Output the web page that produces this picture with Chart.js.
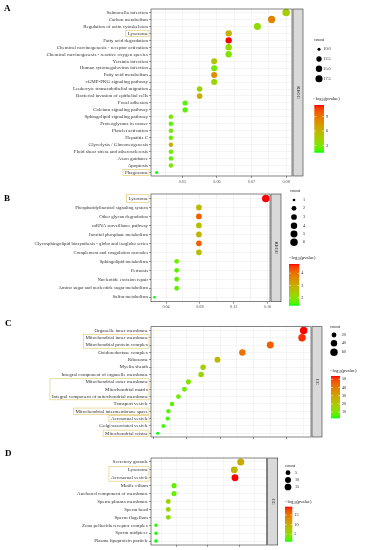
<!DOCTYPE html>
<html>
<head>
<meta charset="utf-8">
<script src="https://cdn.jsdelivr.net/npm/chart.js@4.4.1/dist/chart.umd.min.js"></script>
<style>
  html, body { margin: 0; padding: 0; background: #fff; }
  #wrap { position: relative; width: 366px; height: 550px; overflow: hidden; }
  canvas { position: absolute; left: 0; }
</style>
</head>
<body>
<div id="wrap">
  <canvas id="cA"></canvas>
  <canvas id="cB"></canvas>
  <canvas id="cC"></canvas>
  <canvas id="cD"></canvas>
</div>
<script>
// ---- panel A (KEGG) ----
const termsA = ['Salmonella infection', 'Carbon metabolism', 'Regulation of actin cytoskeleton', 'Lysosome',
  'Fatty acid degradation', 'Chemical carcinogenesis - receptor activation',
  'Chemical carcinogenesis - reactive oxygen species', 'Yersinia infection', 'Human cytomegalovirus infection',
  'Fatty acid metabolism', 'cGMP-PKG signaling pathway', 'Leukocyte transendothelial migration',
  'Bacterial invasion of epithelial cells', 'Focal adhesion', 'Calcium signaling pathway',
  'Sphingolipid signaling pathway', 'Proteoglycans in cancer', 'Platelet activation', 'Hepatitis C',
  'Glycolysis / Gluconeogenesis', 'Fluid shear stress and atherosclerosis', 'Axon guidance', 'Apoptosis', 'Phagosome'];
const ratioA = [0.0800, 0.0758, 0.0717, 0.0634, 0.0634, 0.0634, 0.0634, 0.0592, 0.0592, 0.0592, 0.0592, 0.0550,
  0.0550, 0.0508, 0.0508, 0.0467, 0.0467, 0.0467, 0.0467, 0.0467, 0.0467, 0.0467, 0.0467, 0.0426];
const countA = [19, 18, 17, 15, 15, 15, 15, 14, 14, 14, 14, 13, 13, 12, 12, 11, 11, 11, 11, 11, 11, 11, 11, 10];
const logpA = [4.5, 8.4, 3.7, 6.0, 11.4, 3.9, 3.2, 5.0, 2.8, 8.0, 4.1, 4.3, 6.5, 2.2, 2.2, 3.0, 2.2, 3.0, 2.7,
  6.0, 2.7, 2.4, 3.0, 1.5];
const countBreaksA = [10, 12.5, 15, 17.5];
const logpBreaksA = [3, 6, 9];

// ---- panel B (KEGG) ----
const termsB = ['Lysosome', 'Phosphatidylinositol signaling system', 'Other glycan degradation',
  'mRNA surveillance pathway', 'Inositol phosphate metabolism',
  'Glycosphingolipid biosynthesis - globo and isoglobo series', 'Complement and coagulation cascades',
  'Sphingolipid metabolism', 'Pertussis', 'Nucleotide excision repair',
  'Amino sugar and nucleotide sugar metabolism', 'Sulfur metabolism'];
const ratioB = [0.158, 0.0789, 0.0789, 0.0789, 0.0789, 0.0789, 0.0789, 0.0526, 0.0526, 0.0526, 0.0526, 0.0263];
const countB = [6, 3, 3, 3, 3, 3, 3, 2, 2, 2, 2, 1];
const logpB = [4.76, 2.8, 4.2, 2.7, 2.9, 4.2, 2.7, 1.8, 1.6, 1.7, 1.7, 1.35];
const countBreaksB = [1, 2, 3, 4, 5, 6];
const logpBreaksB = [2, 3, 4];

// ---- panel C (GO CC) ----
const termsC = ['Organelle inner membrane', 'Mitochondrial inner membrane', 'Mitochondrial protein complex',
  'Oxidoreductase complex', 'Ribosome', 'Myelin sheath', 'Integral component of organelle membrane',
  'Mitochondrial outer membrane', 'Mitochondrial matrix', 'Integral component of mitochondrial membrane',
  'Transport vesicle', 'Mitochondrial intermembrane space', 'Acrosomal vesicle', 'Golgi-associated vesicle',
  'Mitochondrial cristae'];
const ratioC = [0.110, 0.109, 0.090, 0.0733, 0.0584, 0.0498, 0.0486, 0.041, 0.0386, 0.035, 0.0312, 0.029,
  0.0286, 0.026, 0.0226];
const countC = [61, 60, 50, 40, 32, 27, 27, 23, 21, 19, 17, 16, 16, 14, 12];
const logpC = [54, 52, 46, 42, 24, 17, 16, 12, 9, 8, 7, 6, 5, 4.5, 2.5];
const countBreaksC = [20, 40, 60];
const logpBreaksC = [10, 20, 30, 40, 50];

// ---- panel D (GO CC) ----
const termsD = ['Secretory granule', 'Lysosome', 'Acrosomal vesicle', 'Motile cilium',
  'Anchored component of membrane', 'Sperm plasma membrane', 'Sperm head', 'Sperm flagellum',
  'Zona pellucida receptor complex', 'Sperm midpiece', 'Plasma lipoprotein particle'];
const ratioD = [0.1526, 0.1423, 0.1434, 0.0457, 0.0457, 0.0365, 0.0365, 0.0365, 0.0168, 0.0168, 0.0168];
const countD = [17, 16, 16, 6, 6, 5, 5, 5, 3, 3, 3];
const logpD = [10.2, 9.1, 19.3, 2.8, 3.0, 6.2, 6.2, 5.2, 1.5, 1.3, 1.1];
const countBreaksD = [5, 10, 15];
const logpBreaksD = [5, 10, 15];

const W = 366;
const FONT = '"Liberation Serif", "DejaVu Serif", serif';

// green -> red gradient interpolated in Lab, like ggplot
function lin(c) { c /= 255; return c <= 0.04045 ? c / 12.92 : Math.pow((c + 0.055) / 1.055, 2.4); }
function gam(c) { c = c <= 0.0031308 ? 12.92 * c : 1.055 * Math.pow(c, 1 / 2.4) - 0.055; return Math.round(Math.max(0, Math.min(1, c)) * 255); }
function toLab(rgb) {
  const R = lin(rgb[0]), G = lin(rgb[1]), B = lin(rgb[2]);
  const X = (0.4124 * R + 0.3576 * G + 0.1805 * B) / 0.95047;
  const Y = 0.2126 * R + 0.7152 * G + 0.0722 * B;
  const Z = (0.0193 * R + 0.1192 * G + 0.9505 * B) / 1.08883;
  const f = t => t > 0.008856 ? Math.cbrt(t) : 7.787 * t + 16 / 116;
  return [116 * f(Y) - 16, 500 * (f(X) - f(Y)), 200 * (f(Y) - f(Z))];
}
function fromLab(l) {
  const fy = (l[0] + 16) / 116, fx = fy + l[1] / 500, fz = fy - l[2] / 200;
  const fi = t => t * t * t > 0.008856 ? t * t * t : (t - 16 / 116) / 7.787;
  const X = fi(fx) * 0.95047, Y = fi(fy), Z = fi(fz) * 1.08883;
  const R = 3.2406 * X - 1.5372 * Y - 0.4986 * Z;
  const G = -0.9689 * X + 1.8758 * Y + 0.0415 * Z;
  const B = 0.0557 * X - 0.2040 * Y + 1.0570 * Z;
  return 'rgb(' + gam(R) + ',' + gam(G) + ',' + gam(B) + ')';
}
const LO = toLab([0, 255, 0]), HI = toLab([255, 0, 0]);
function grad(t) {
  t = Math.max(0, Math.min(1, t));
  return fromLab([LO[0] + (HI[0] - LO[0]) * t, LO[1] + (HI[1] - LO[1]) * t, LO[2] + (HI[2] - LO[2]) * t]);
}

const deco = {
  id: 'deco',
  afterDraw(chart, args, o) {
    const ctx = chart.ctx, a = chart.chartArea, ys = chart.scales.y;
    ctx.save();
    // highlight boxes around some labels
    ctx.font = o.labelSize + 'px ' + FONT;
    ctx.strokeStyle = '#e6d38c';
    ctx.lineWidth = 0.8;
    o.boxes.forEach(b => {
      let w = 0;
      for (let i = b[0]; i <= b[1]; i++) w = Math.max(w, ctx.measureText(o.terms[i]).width);
      const step = ys.getPixelForValue(1) - ys.getPixelForValue(0);
      const y0 = ys.getPixelForValue(b[0]) - step / 2 + 0.5;
      const y1 = ys.getPixelForValue(b[1]) + step / 2 - 0.5;
      const x1 = a.left - 2;
      const x0 = a.left - 3 - w - 2;
      ctx.strokeRect(x0, y0, x1 - x0, y1 - y0);
    });
    // panel border
    ctx.strokeStyle = '#333';
    ctx.lineWidth = 0.6;
    ctx.strokeRect(a.left, a.top, a.right - a.left, a.bottom - a.top);
    // strip
    ctx.fillStyle = '#d9d9d9';
    ctx.fillRect(a.right + 1, a.top, 10, a.bottom - a.top);
    ctx.strokeRect(a.right + 1, a.top, 10, a.bottom - a.top);
    ctx.save();
    ctx.translate(a.right + 6, (a.top + a.bottom) / 2);
    ctx.rotate(Math.PI / 2);
    ctx.fillStyle = '#1a1a1a';
    ctx.font = '4.5px ' + FONT;
    ctx.textAlign = 'center';
    ctx.textBaseline = 'middle';
    ctx.fillText(o.strip, 0, 0);
    ctx.restore();
    // panel letter
    ctx.fillStyle = '#000';
    ctx.font = 'bold 9px ' + FONT;
    ctx.textAlign = 'left';
    ctx.textBaseline = 'alphabetic';
    ctx.fillText(o.letter, o.letterPos[0], o.letterPos[1]);
    // size legend
    const L = o.legend;
    ctx.fillStyle = '#1a1a1a';
    ctx.font = '4.5px ' + FONT;
    ctx.textBaseline = 'middle';
    ctx.fillText('count', L.sizeTitle[0], L.sizeTitle[1]);
    ctx.font = '4.2px ' + FONT;
    o.countBreaks.forEach((c, i) => {
      ctx.fillStyle = '#000';
      ctx.beginPath();
      ctx.arc(L.dotX, L.dotY[i], o.rad(c), 0, Math.PI * 2);
      ctx.fill();
      ctx.fillStyle = '#1a1a1a';
      ctx.fillText(String(c % 1 === 0 && o.decimals ? c.toFixed(1) : c), L.labX, L.dotY[i]);
    });
    // colour bar
    const bx = L.bar[0], by = L.bar[1], bw = L.bar[2], bh = L.bar[3];
    ctx.font = '4.5px ' + FONT;
    let tx = L.barTitle[0];
    ctx.fillText('\u2212log', tx, L.barTitle[1]);
    tx += ctx.measureText('\u2212log').width;
    ctx.font = '3.2px ' + FONT;
    ctx.fillText('10', tx, L.barTitle[1] + 1.2);
    tx += ctx.measureText('10').width;
    ctx.font = '4.5px ' + FONT;
    ctx.fillText('(pvalue)', tx, L.barTitle[1]);
    const g = ctx.createLinearGradient(0, by + bh, 0, by);
    for (let k = 0; k <= 20; k++) g.addColorStop(k / 20, grad(k / 20));
    ctx.fillStyle = g;
    ctx.fillRect(bx, by, bw, bh);
    ctx.font = '4.2px ' + FONT;
    ctx.strokeStyle = '#fff';
    ctx.lineWidth = 0.5;
    o.logpBreaks.forEach(v => {
      const yy = by + bh - (v - o.lo) / (o.hi - o.lo) * bh;
      ctx.beginPath();
      ctx.moveTo(bx, yy); ctx.lineTo(bx + 2, yy);
      ctx.moveTo(bx + bw - 2, yy); ctx.lineTo(bx + bw, yy);
      ctx.stroke();
      ctx.fillStyle = '#1a1a1a';
      ctx.fillText(String(v), bx + bw + 2, yy);
    });
    ctx.restore();
  }
};

function panel(cfg) {
  const cv = document.getElementById(cfg.id);
  cv.width = W; cv.height = cfg.h;
  cv.style.width = W + 'px'; cv.style.height = cfg.h + 'px';
  cv.style.top = cfg.top + 'px';
  const lo = Math.min(...cfg.logp), hi = Math.max(...cfg.logp);
  const cmin = Math.min(...cfg.count), cmax = Math.max(...cfg.count);
  const rad = c => (cfg.d[0] + (cfg.d[1] - cfg.d[0]) * Math.sqrt(Math.max(0, (c - cmin) / (cmax - cmin)))) / 2;
  const isMajor = v => Math.abs(v / cfg.major - Math.round(v / cfg.major)) < 1e-6;
  const areaBottom = cfg.area[1];
  new Chart(cv, {
    type: 'bubble',
    data: {
      datasets: [{
        data: cfg.terms.map((t, i) => ({ x: cfg.ratio[i], y: t, r: rad(cfg.count[i]) })),
        backgroundColor: cfg.logp.map(v => grad((v - lo) / (hi - lo))),
        borderWidth: 0,
        hoverBorderWidth: 0,
        clip: false
      }]
    },
    options: {
      responsive: false,
      animation: false,
      devicePixelRatio: 1,
      events: [],
      layout: { padding: { top: cfg.area[0], right: W - cfg.right, left: 0, bottom: 0 } },
      plugins: {
        legend: { display: false },
        tooltip: { enabled: false },
        deco: {
          terms: cfg.terms, boxes: cfg.boxes, strip: cfg.strip, letter: cfg.letter, letterPos: cfg.letterPos,
          legend: cfg.legend, countBreaks: cfg.countBreaks, logpBreaks: cfg.logpBreaks, rad: rad,
          lo: lo, hi: hi, decimals: cfg.decimals, labelSize: cfg.labelSize
        }
      },
      scales: {
        x: {
          type: 'linear', min: cfg.xr[0], max: cfg.xr[1],
          border: { display: false },
          grid: {
            color: '#ebebeb', lineWidth: 0.5, tickLength: 2,
            tickColor: c => (c.tick && isMajor(c.tick.value)) ? '#333' : 'rgba(0,0,0,0)'
          },
          ticks: {
            stepSize: cfg.step, includeBounds: false, autoSkip: false, maxRotation: 0, padding: 1,
            color: '#4d4d4d', font: { family: FONT, size: 4.2 },
            callback: v => (cfg.showX && isMajor(v)) ? v.toFixed(2) : ''
          },
          afterFit: s => { s.height = cfg.h - areaBottom; }
        },
        y: {
          type: 'category', labels: cfg.terms, offset: true,
          border: { display: false },
          grid: { color: '#ebebeb', lineWidth: 0.5, tickLength: 2, tickColor: '#333' },
          ticks: { autoSkip: false, padding: 1, color: '#333', font: { family: FONT, size: cfg.labelSize } },
          afterFit: s => { s.width = 151; }
        }
      }
    },
    plugins: [deco]
  });
}

panel({
  id: 'cA', top: 0, h: 185, area: [9, 176], right: 292,
  terms: termsA, ratio: ratioA, count: countA, logp: logpA,
  xr: [0.04095, 0.0817], step: 0.005, major: 0.01, showX: true, d: [3, 7.5],
  labelSize: 5, strip: 'KEGG', letter: 'A', letterPos: [4, 11],
  boxes: [[3, 3], [23, 23]], countBreaks: countBreaksA, logpBreaks: logpBreaksA, decimals: true,
  legend: { sizeTitle: [314, 40], dotX: 319, dotY: [49.3, 59, 68.7, 78.7], labX: 323.3,
    barTitle: [313.3, 98.7], bar: [314.3, 105, 9.7, 47.7] }
});

panel({
  id: 'cB', top: 185, h: 125, area: [9, 116.7], right: 270,
  terms: termsB, ratio: ratioB, count: countB, logp: logpB,
  xr: [0.0222, 0.163], step: 0.02, major: 0.04, showX: true, d: [2.6, 7.5],
  labelSize: 4.8, strip: 'KEGG', letter: 'B', letterPos: [4, 16],
  boxes: [[0, 0]], countBreaks: countBreaksB, logpBreaks: logpBreaksB, decimals: false,
  legend: { sizeTitle: [290, 6], dotX: 294, dotY: [15, 23.3, 32, 40.7, 49, 57.3], labX: 303,
    barTitle: [289, 72.7], bar: [289, 79, 10.3, 41.7] }
});

panel({
  id: 'cC', top: 310, h: 135, area: [16.7, 127], right: 311,
  terms: termsC, ratio: ratioC, count: countC, logp: logpC,
  xr: [0.0186, 0.1144], step: 0.01, major: 0.02, showX: false, d: [3, 7.5],
  labelSize: 5, strip: 'CC', letter: 'C', letterPos: [5, 16],
  boxes: [[1, 2], [7, 9], [11, 11], [12, 12], [14, 14]], countBreaks: countBreaksC, logpBreaks: logpBreaksC,
  decimals: false,
  legend: { sizeTitle: [330, 16.7], dotX: 334, dotY: [25, 33.3, 42.3], labX: 341.7,
    barTitle: [330, 60.7], bar: [331, 66, 9, 42.3] }
});

panel({
  id: 'cD', top: 445, h: 105, area: [13, 100], right: 266.7,
  terms: termsD, ratio: ratioD, count: countD, logp: logpD,
  xr: [0.0088, 0.1942], step: 0.025, major: 0.05, showX: false, d: [3.5, 7],
  labelSize: 5, strip: 'CC', letter: 'D', letterPos: [5, 11],
  boxes: [[1, 2]], countBreaks: countBreaksD, logpBreaks: logpBreaksD, decimals: false,
  legend: { sizeTitle: [285, 20.7], dotX: 288, dotY: [27.7, 35, 42], labX: 295,
    barTitle: [285, 56.7], bar: [285, 61.7, 7.3, 35] }
});
</script>
</body>
</html>
